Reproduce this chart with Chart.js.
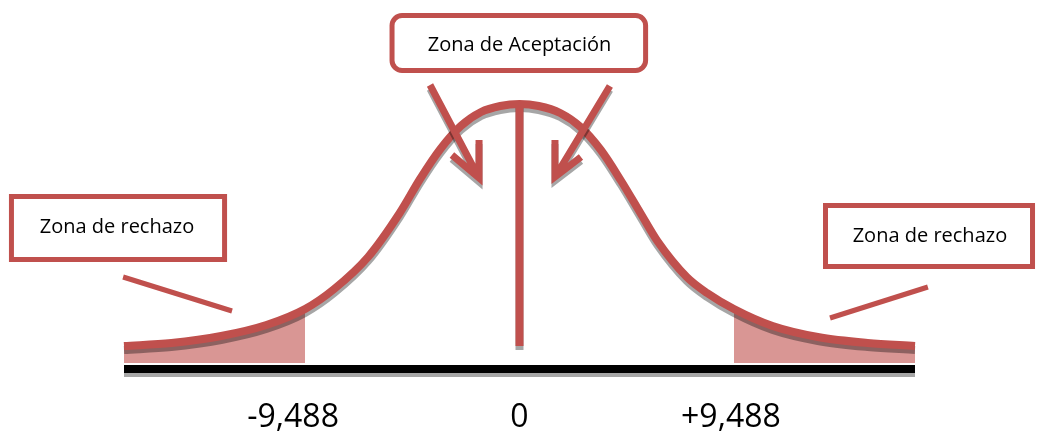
<!DOCTYPE html>
<html>
<head>
<meta charset="utf-8">
<script src="https://cdn.jsdelivr.net/npm/chart.js@4.4.0/dist/chart.umd.min.js"></script>
<style>
  html, body { margin: 0; padding: 0; background: #ffffff; }
</style>
</head>
<body>
<canvas id="grafico" width="1039" height="437"></canvas>
<script>
// curva (x en unidades del estadistico, altura arbitraria)
var EjeX = [-17.5, -15.4, -13.2, -11.2, -9.488, -8.2, -6.7, -5.3, -4.4, -3.5, -2.6, -1.7, -0.85, 0,
            0.85, 1.8, 2.7, 3.6, 4.5, 5.35, 6.1, 7.4, 8.3, 9.488, 11.2, 13.2, 15.4, 17.5]
var Altura = [17, 20, 27, 38, 54, 74, 106, 150, 184, 214, 237, 251, 257, 259,
              257, 250, 236, 213, 182, 150, 122, 86, 70, 54, 37, 26, 20, 17]

var ValoresCriticos = [-9.488, 0, 9.488]
var EtiquetasCriticas = ['-9,488', '0', '+9,488']

var LineaBaseX = [-17.5, 17.5]
var LineaBaseY = [-6, -6]
var CentroX = [0, 0]
var CentroY = [17, 259]

var ROJO = '#c0504d'
var ROSA = '#d99694'

function puntos(xs, ys) {
    return xs.map(function (x, i) { return { x: x, y: ys[i] } })
}
var Curva = puntos(EjeX, Altura)
var ColaIzq = Curva.filter(function (p) { return p.x <= ValoresCriticos[0] })
var ColaDer = Curva.filter(function (p) { return p.x >= ValoresCriticos[2] })

// sombra gris debajo de las lineas
var Sombra = {
    id: 'Sombra',
    beforeDatasetDraw: function (chart, args) {
        var ds = chart.data.datasets[args.index]
        if (!ds.sombra) return
        var ctx = chart.ctx
        ctx.save()
        ctx.shadowColor = 'rgba(0,0,0,0.35)'
        ctx.shadowOffsetX = 0
        ctx.shadowOffsetY = 4
        ctx.shadowBlur = 0
    },
    afterDatasetDraw: function (chart, args) {
        if (chart.data.datasets[args.index].sombra) chart.ctx.restore()
    }
}

// cuadros, flechas y lineas de llamada (en unidades de los ejes)
var Anotaciones = {
    id: 'Anotaciones',
    afterDatasetsDraw: function (chart) {
        var ctx = chart.ctx
        var sx = chart.scales.x, sy = chart.scales.y
        function px(x) { return sx.getPixelForValue(x) }
        function py(y) { return sy.getPixelForValue(y) }

        function cuadro(x0, x1, y0, y1, radio, texto, tx, ty) {
            ctx.save()
            ctx.lineWidth = 5
            ctx.strokeStyle = ROJO
            ctx.fillStyle = '#ffffff'
            ctx.beginPath()
            if (radio) ctx.roundRect(px(x0), py(y0), px(x1) - px(x0), py(y1) - py(y0), radio)
            else ctx.rect(px(x0), py(y0), px(x1) - px(x0), py(y1) - py(y0))
            ctx.fill()
            ctx.stroke()
            ctx.fillStyle = '#000000'
            ctx.font = '20px "Open Sans"'
            ctx.textAlign = 'center'
            ctx.textBaseline = 'middle'
            ctx.fillText(texto, px(tx), py(ty))
            ctx.restore()
        }

        function linea(x0, y0, x1, y1) {
            ctx.save()
            ctx.strokeStyle = ROJO
            ctx.lineWidth = 5
            ctx.lineCap = 'butt'
            ctx.beginPath()
            ctx.moveTo(px(x0), py(y0))
            ctx.lineTo(px(x1), py(y1))
            ctx.stroke()
            ctx.restore()
        }

        function flecha(x0, y0, x1, y1, b1x, b1y, b2x, b2y) {
            ctx.save()
            ctx.shadowColor = 'rgba(0,0,0,0.35)'
            ctx.shadowOffsetY = 4
            ctx.strokeStyle = ROJO
            ctx.lineWidth = 7
            ctx.lineCap = 'butt'
            ctx.lineJoin = 'miter'
            ctx.beginPath()
            ctx.moveTo(px(x0), py(y0))
            ctx.lineTo(px(x1), py(y1))
            ctx.moveTo(px(b1x), py(b1y))
            ctx.lineTo(px(x1), py(y1))
            ctx.lineTo(px(b2x), py(b2y))
            ctx.stroke()
            ctx.restore()
        }

        cuadro(-5.64, 5.58, 347.5, 292.5, 10, 'Zona de Aceptación', 0, 318)
        cuadro(-22.48, -13.05, 166.5, 103.5, 0, 'Zona de rechazo', -17.81, 136)
        cuadro(13.54, 22.7, 157.5, 96.5, 0, 'Zona de rechazo', 18.16, 127)

        linea(-17.54, 86, -12.72, 52)
        linea(13.74, 45, 18.07, 76)

        flecha(-3.96, 278, -1.79, 185, -1.79, 223, -2.99, 208)
        flecha(4.0, 277, 1.57, 186, 1.57, 223, 2.72, 206)
    },
    afterDraw: function (chart) {
        var ctx = chart.ctx
        var sx = chart.scales.x
        var ajuste = [-12, 0, -3]
        ctx.save()
        ctx.fillStyle = '#000000'
        ctx.font = '32px "Open Sans"'
        ctx.textAlign = 'center'
        ctx.textBaseline = 'middle'
        for (var i = 0; i < ValoresCriticos.length; i++) {
            ctx.fillText(EtiquetasCriticas[i], sx.getPixelForValue(ValoresCriticos[i]) + ajuste[i], 418)
        }
        ctx.restore()
    }
}

var config_Campana = {
    type: 'line',
    data: {
        datasets: [
            {
                data: ColaIzq, borderWidth: 0, backgroundColor: ROSA,
                fill: { value: 0 }, pointRadius: 0, cubicInterpolationMode: 'monotone', order: 4, clip: false
            },
            {
                data: ColaDer, borderWidth: 0, backgroundColor: ROSA,
                fill: { value: 0 }, pointRadius: 0, cubicInterpolationMode: 'monotone', order: 4, clip: false
            },
            {
                data: puntos(LineaBaseX, LineaBaseY), borderColor: '#000000', borderWidth: 8,
                pointRadius: 0, fill: false, order: 3, clip: false, sombra: true, borderCapStyle: 'butt'
            },
            {
                data: Curva, borderColor: ROJO, borderWidth: 8, pointRadius: 0, fill: false,
                cubicInterpolationMode: 'monotone', order: 2, clip: false, sombra: true, borderCapStyle: 'butt'
            },
            {
                data: puntos(CentroX, CentroY), borderColor: ROJO, borderWidth: 8, pointRadius: 0,
                fill: false, order: 1, clip: false, sombra: true, borderCapStyle: 'butt'
            }
        ]
    },
    plugins: [Sombra, Anotaciones],
    options: {
        responsive: false,
        animation: false,
        devicePixelRatio: 1,
        layout: { padding: { left: 124, right: 124, top: 63, bottom: 60 } },
        plugins: {
            legend: { display: false },
            tooltip: { enabled: false },
            title: { display: false }
        },
        scales: {
            x: { type: 'linear', min: -17.5, max: 17.5, display: false },
            y: { min: -14, max: 300, display: false }
        }
    }
}

var GraficoElement = document.getElementById('grafico').getContext('2d')
var Grafico = new Chart(GraficoElement, config_Campana)
</script>
</body>
</html>
